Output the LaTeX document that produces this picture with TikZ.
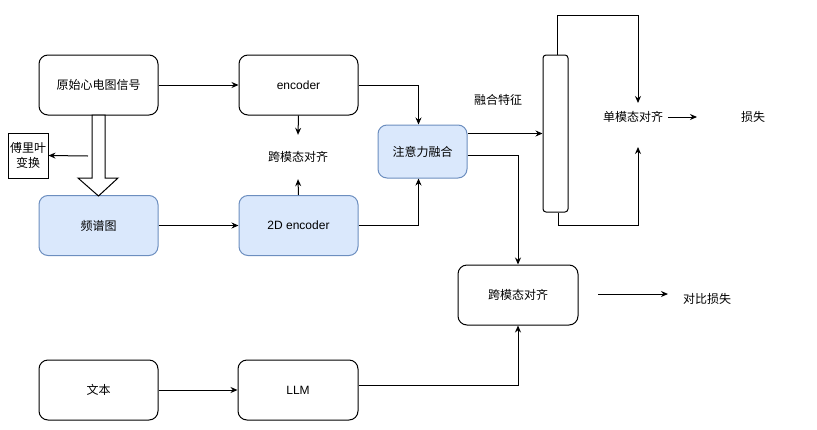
\documentclass[tikz,border=0pt]{standalone}
\usepackage{fontspec}
\setmainfont{Liberation Sans}
\newfontfamily\cjk{Noto Sans CJK SC}
\usetikzlibrary{arrows.meta}
\definecolor{bluefill}{HTML}{DAE8FC}
\definecolor{bluestroke}{HTML}{6C8EBF}
\begin{document}
\begin{tikzpicture}[x=1pt,y=-1pt,
  font=\fontsize{12}{15}\selectfont,
  box/.style={draw, rounded corners=9pt, line width=1pt, minimum width=119pt, minimum height=60pt, inner sep=0pt},
  bluebox/.style={box, draw=bluestroke, fill=bluefill},
  lbl/.style={inner sep=5pt, font=\fontsize{12}{15}\selectfont\cjk},
  arr/.style={-{Stealth[length=7pt,width=6pt]}, line width=1pt},
  ln/.style={line width=1pt}]
\useasboundingbox (0,0) rectangle (817,429);

% nodes
\node[box, font=\fontsize{12}{15}\selectfont\cjk] (raw) at (98.5,85) {原始心电图信号};
\node[bluebox, font=\fontsize{12}{15}\selectfont\cjk] (spec) at (98.5,225.5) {频谱图};
\node[box] (enc) at (298.5,85) {encoder};
\node[bluebox] (enc2d) at (298.5,225.5) {2D encoder};
\node[lbl, minimum height=44pt] (mid) at (298,157) {跨模态对齐};
\node[bluebox, minimum width=89pt, minimum height=53pt, font=\fontsize{12}{15}\selectfont\cjk] (att) at (422.5,151.5) {注意力融合};
\node[draw, line width=1pt, rounded corners=3pt, minimum width=25pt, minimum height=157pt, inner sep=0pt] (bar) at (555.5,133.5) {};
\node[lbl] (fuse) at (498,100) {融合特征};
\node[lbl] (uni) at (633,117) {单模态对齐};
\node[lbl] (loss) at (753,117) {损失};
\node[box, minimum width=120pt, font=\fontsize{12}{15}\selectfont\cjk] (cross) at (518,295) {跨模态对齐};
\node[lbl] (contrast) at (707,299) {对比损失};
\node[box, font=\fontsize{12}{15}\selectfont\cjk] (txt) at (98.5,390) {文本};
\node[box, minimum width=120pt] (llm) at (298,390) {LLM};
\node[draw, line width=1pt, minimum width=40pt, minimum height=45pt, inner sep=0pt, align=center, font=\fontsize{12}{15}\selectfont\cjk] (fourier) at (28,155.5) {傅里叶\\变换};

% free-end coordinates
\coordinate (looptop) at (638,15);
\coordinate (loopbot) at (638,225);
\coordinate (unitop) at (638,103);
\coordinate (unibot) at (638,147);
\coordinate (lossend) at (697,117);
\coordinate (cstart) at (598,294);
\coordinate (cend) at (668,294);
\coordinate (fstart) at (88,156);

% hollow arrow
\draw[ln, fill=white] (92,115) -- (105,115) -- (105,178) -- (118,178) -- (98.5,196) -- (78,178) -- (92,178) -- cycle;

% connectors
\draw[arr] (raw.east) -- (enc.west);
\draw[arr] (spec.east) -- (enc2d.west);
\draw[arr] (txt.east) -- (llm.west);
\draw[arr] (enc.south) -- (mid.north);
\draw[arr] (enc2d.north) -- (mid.south);
\draw[arr] (enc.east) -| ([xshift=-4pt]att.north);
\draw[arr] (enc2d.east) -| ([xshift=-4pt]att.south);
\draw[arr] (att.east |- bar.west) -- (bar.west);
\draw[arr] ([yshift=-3.5pt]att.east) -| (cross.north);
\draw[arr] ([xshift=1.5pt]bar.north) |- (looptop) -- (unitop);
\draw[arr] ([xshift=2.5pt]bar.south) |- (loopbot) -- (unibot);
\draw[arr] (uni.east) -- (lossend);
\draw[arr] (cstart) -- (cend);
\draw[arr] ([yshift=5pt]llm.east) -| (cross.south);
\draw[arr] (fstart) -- (fourier.east);
\end{tikzpicture}
\end{document}
